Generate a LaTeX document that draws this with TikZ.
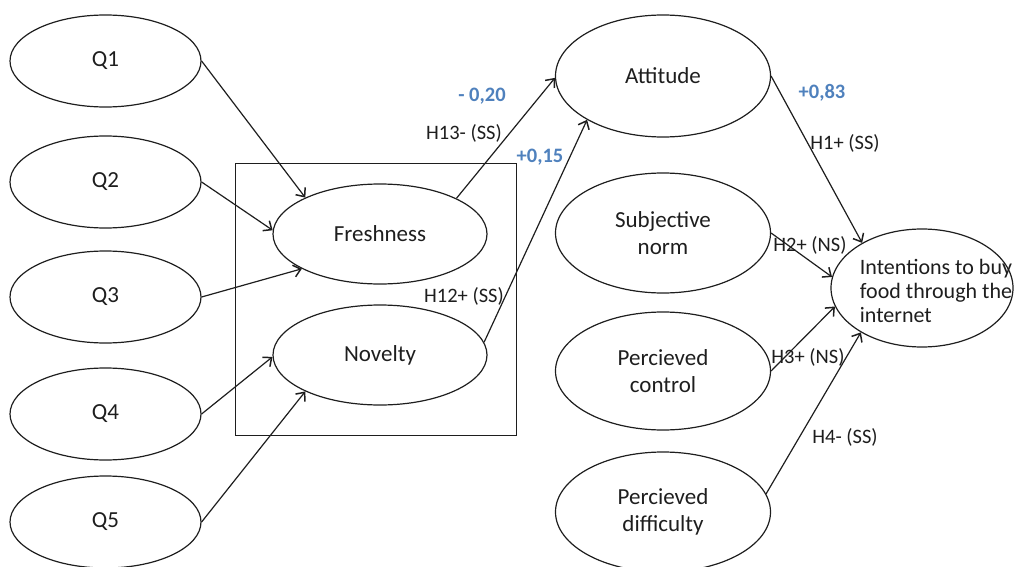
\documentclass[tikz,border=0pt]{standalone}
\usepackage{fontspec}
\setmainfont{Carlito}
\usetikzlibrary{shapes.geometric,arrows.meta}
\definecolor{coefblue}{RGB}{79,129,189}
\definecolor{inkgray}{RGB}{30,30,30}
\begin{document}
\begin{tikzpicture}[x=1pt,y=-1pt,
  construct/.style={draw=inkgray, ellipse, line width=1.2pt, inner sep=0pt, align=center,
    text=inkgray, font=\fontsize{23}{27}\selectfont},
  itemq/.style={construct, minimum width=191pt, minimum height=92pt},
  latent/.style={construct, minimum width=214pt, minimum height=100pt},
  tpb/.style={construct, minimum width=215pt, minimum height=120pt},
  link/.style={draw=inkgray, line width=1.2pt,
    -{Straight Barb[length=7pt,width=12pt,line width=1.5pt]}},
  hyp/.style={font=\fontsize{20.5}{24}\selectfont, text=inkgray, inner sep=0pt},
  coef/.style={font=\fontsize{20.5}{24}\selectfont\bfseries, text=coefblue, inner sep=0pt}
]
\useasboundingbox (0,0) rectangle (1014,567);

% measured items
\node[itemq] (q1) at (105.5,61)  {Q1};
\node[itemq] (q2) at (105.5,182) {Q2};
\node[itemq] (q3) at (105.5,297) {Q3};
\node[itemq] (q4) at (105.5,414) {Q4};
\node[itemq] (q5) at (105.5,522) {Q5};

% grouped product attributes
\node[draw=inkgray, line width=0.9pt, minimum width=281pt, minimum height=272pt, inner sep=0pt]
  (group) at (375.5,299) {};
\node[latent] (fresh) at (380,234) {Freshness};
\node[latent] (novel) at (380,355) {Novelty};

% theory of planned behaviour constructs
\node[tpb, minimum height=122pt] (att)  at (663,76)  {Attitude};
\node[tpb] (subj) at (663,233) {Subjective\\norm};
\node[tpb, minimum height=118pt] (ctrl) at (663,371) {Percieved\\control};
\node[tpb] (diff) at (663,512) {Percieved\\difficulty};
\node[construct, minimum width=182pt, minimum height=118pt,
  label={[name=intenttext, align=left, text=inkgray, xshift=14pt, yshift=-3pt,
    font=\fontsize{22}{24}\selectfont]center:Intentions to buy\\food through the\\internet}]
  (intent) at (922,288) {};

% item loadings
\draw[link] (q1.east) -- (fresh.154);
\draw[link] (q2.east) -- (fresh.178);
\draw[link] (q3.east) -- (fresh.204);
\draw[link] (q4.east) -- (novel.181);
\draw[link] (q5.east) -- (novel.206);

% structural paths
\draw[link] (fresh.25) -- (att.181);
\draw[link] (novel.7) -- (att.210);
\draw[link] (att.east) -- (intent.143);
\draw[link] (subj.east) -- (intent.173);
\draw[link] (ctrl.east) -- (intent.192);
\draw[link] (diff.10) -- (intent.216);

% path labels
\node[coef] (c13) at (482,96)  {- 0,20};
\node[hyp]  (h13) at (464,133) {H13- (SS)};
\node[coef] (c12) at (540,157) {+0,15};
\node[hyp]  (h12) at (464,296) {H12+ (SS)};
\node[coef] (c1)  at (822,93)  {+0,83};
\node[hyp]  (h1)  at (845,143) {H1+ (SS)};
\node[hyp]  (h2)  at (810,245) {H2+ (NS)};
\node[hyp]  (h3)  at (808,357) {H3+ (NS)};
\node[hyp]  (h4)  at (845,437) {H4- (SS)};
\end{tikzpicture}
\end{document}
